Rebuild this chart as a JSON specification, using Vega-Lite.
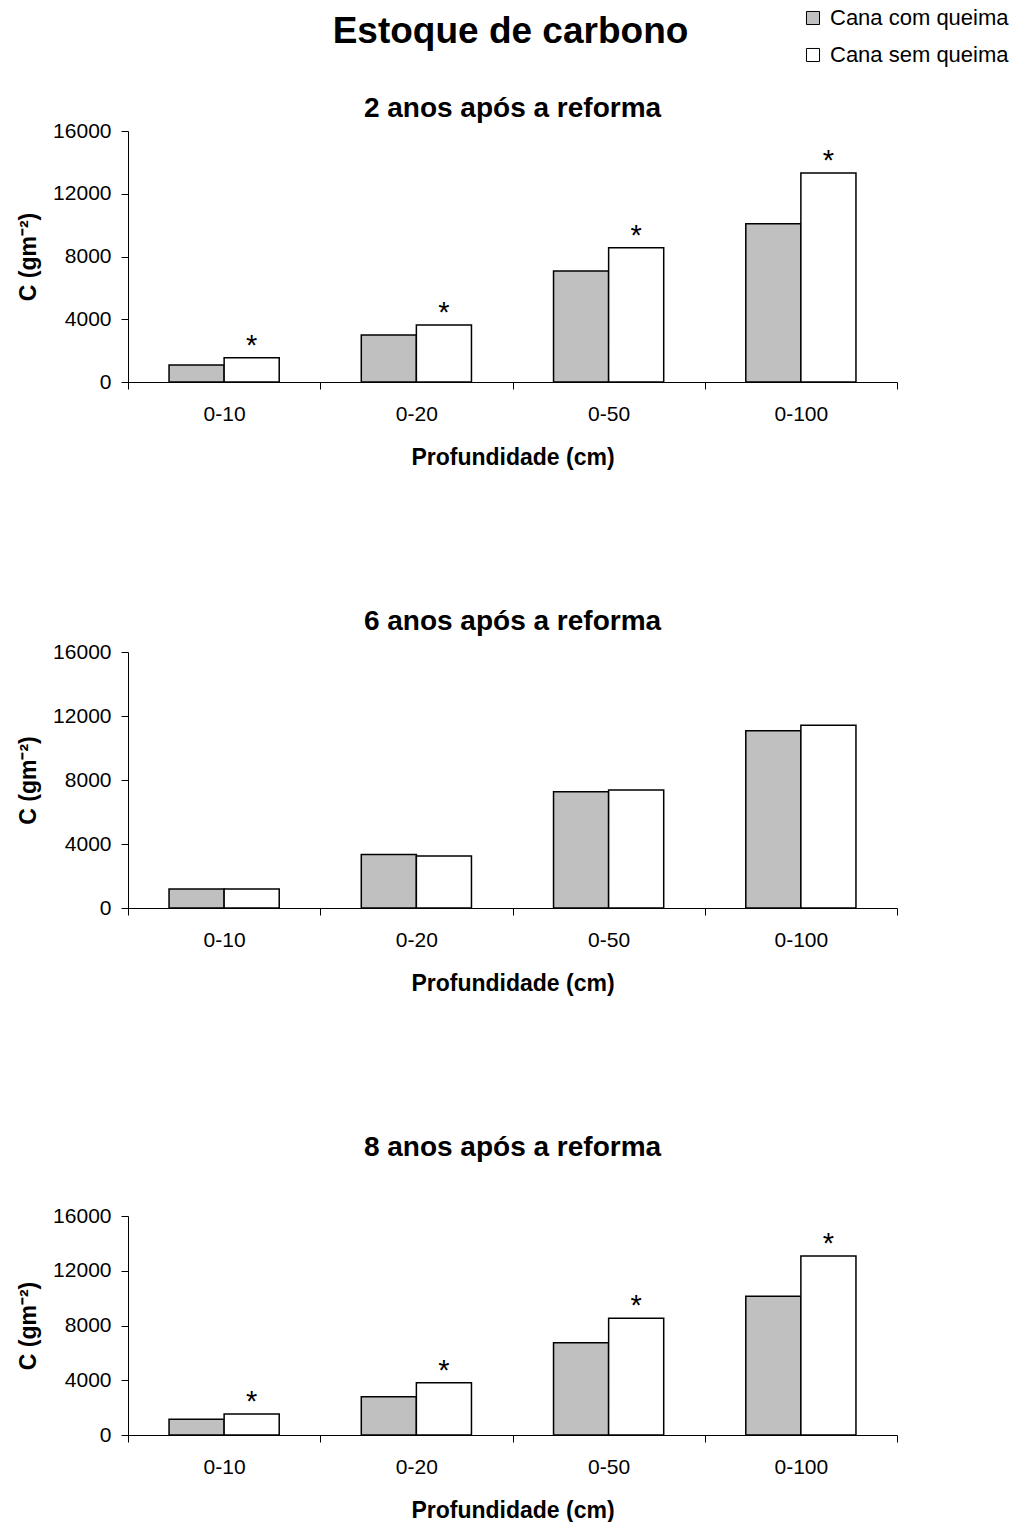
{
  "$schema": "https://vega.github.io/schema/vega-lite/v6.json",
  "padding": {"left": 17, "top": 7, "right": 5, "bottom": 5},
  "background": "white",
  "title": {"text": "Estoque de carbono", "fontSize": 37, "fontWeight": "bold", "anchor": "middle", "frame": "group", "offset": 0, "dy": 44, "dx": -2, "color": "black"},
  "config": {
    "font": "Liberation Sans",
    "view": {"stroke": null},
    "axis": {"grid": false, "domainColor": "black", "tickColor": "black", "labelColor": "black", "titleColor": "black", "labelFontSize": 21, "titleFontSize": 23, "titleFontWeight": "bold", "tickSize": 7, "domainWidth": 1, "tickWidth": 1},
    "title": {"fontSize": 28, "fontWeight": "bold", "color": "black", "anchor": "middle", "frame": "group"},
    "legend": {"orient": "none", "legendX": 674, "legendY": -124, "labelFontSize": 22, "labelLimit": 400, "labelColor": "black", "symbolType": "square", "symbolSize": 170, "symbolStrokeColor": "black", "symbolStrokeWidth": 1, "rowPadding": 15, "labelOffset": 6, "title": null}
  },
  "data": {"values": [
    {"panel": "2", "depth": "0-10", "trat": "Cana com queima", "C": 1080, "sig": ""},
    {"panel": "2", "depth": "0-10", "trat": "Cana sem queima", "C": 1550, "sig": "*"},
    {"panel": "2", "depth": "0-20", "trat": "Cana com queima", "C": 3000, "sig": ""},
    {"panel": "2", "depth": "0-20", "trat": "Cana sem queima", "C": 3630, "sig": "*"},
    {"panel": "2", "depth": "0-50", "trat": "Cana com queima", "C": 7080, "sig": ""},
    {"panel": "2", "depth": "0-50", "trat": "Cana sem queima", "C": 8550, "sig": "*"},
    {"panel": "2", "depth": "0-100", "trat": "Cana com queima", "C": 10080, "sig": ""},
    {"panel": "2", "depth": "0-100", "trat": "Cana sem queima", "C": 13320, "sig": "*"},
    {"panel": "6", "depth": "0-10", "trat": "Cana com queima", "C": 1190, "sig": ""},
    {"panel": "6", "depth": "0-10", "trat": "Cana sem queima", "C": 1180, "sig": ""},
    {"panel": "6", "depth": "0-20", "trat": "Cana com queima", "C": 3350, "sig": ""},
    {"panel": "6", "depth": "0-20", "trat": "Cana sem queima", "C": 3250, "sig": ""},
    {"panel": "6", "depth": "0-50", "trat": "Cana com queima", "C": 7270, "sig": ""},
    {"panel": "6", "depth": "0-50", "trat": "Cana sem queima", "C": 7380, "sig": ""},
    {"panel": "6", "depth": "0-100", "trat": "Cana com queima", "C": 11080, "sig": ""},
    {"panel": "6", "depth": "0-100", "trat": "Cana sem queima", "C": 11420, "sig": ""},
    {"panel": "8", "depth": "0-10", "trat": "Cana com queima", "C": 1150, "sig": ""},
    {"panel": "8", "depth": "0-10", "trat": "Cana sem queima", "C": 1530, "sig": "*"},
    {"panel": "8", "depth": "0-20", "trat": "Cana com queima", "C": 2800, "sig": ""},
    {"panel": "8", "depth": "0-20", "trat": "Cana sem queima", "C": 3820, "sig": "*"},
    {"panel": "8", "depth": "0-50", "trat": "Cana com queima", "C": 6740, "sig": ""},
    {"panel": "8", "depth": "0-50", "trat": "Cana sem queima", "C": 8530, "sig": "*"},
    {"panel": "8", "depth": "0-100", "trat": "Cana com queima", "C": 10140, "sig": ""},
    {"panel": "8", "depth": "0-100", "trat": "Cana sem queima", "C": 13080, "sig": "*"}
  ]},
  "spacing": 139,
  "vconcat": [
    {
      "title": {"text": "2 anos após a reforma", "offset": -3},
      "width": 769, "height": 251,
      "transform": [{"filter": "datum.panel == '2'"}],
      "encoding": {
        "x": {"field": "depth", "type": "nominal", "sort": ["0-10", "0-20", "0-50", "0-100"], "scale": {"paddingInner": 0, "paddingOuter": 0}, "axis": {"title": "Profundidade (cm)", "labelAngle": 0, "tickBand": "extent", "labelPadding": 14, "titlePadding": 22}},
        "xOffset": {"field": "trat", "type": "nominal", "scale": {"paddingInner": 0, "paddingOuter": 0.745}},
        "y": {"field": "C", "type": "quantitative", "scale": {"domain": [0, 16000]}, "axis": {"title": "C (gm⁻²)", "format": "d", "values": [0, 4000, 8000, 12000, 16000], "labelPadding": 10, "titlePadding": 12}}
      },
      "layer": [
        {"mark": {"type": "bar", "stroke": "black", "strokeWidth": 1.5}, "encoding": {"color": {"field": "trat", "type": "nominal", "scale": {"domain": ["Cana com queima", "Cana sem queima"], "range": ["#c0c0c0", "#ffffff"]}}}},
        {"mark": {"type": "text", "fontSize": 29, "baseline": "alphabetic", "dy": -3, "color": "black"}, "encoding": {"text": {"field": "sig"}}}
      ]
    },
    {
      "title": {"text": "6 anos após a reforma", "offset": 5},
      "width": 769, "height": 256,
      "transform": [{"filter": "datum.panel == '6'"}],
      "encoding": {
        "x": {"field": "depth", "type": "nominal", "sort": ["0-10", "0-20", "0-50", "0-100"], "scale": {"paddingInner": 0, "paddingOuter": 0}, "axis": {"title": "Profundidade (cm)", "labelAngle": 0, "tickBand": "extent", "labelPadding": 14, "titlePadding": 22}},
        "xOffset": {"field": "trat", "type": "nominal", "scale": {"paddingInner": 0, "paddingOuter": 0.745}},
        "y": {"field": "C", "type": "quantitative", "scale": {"domain": [0, 16000]}, "axis": {"title": "C (gm⁻²)", "format": "d", "values": [0, 4000, 8000, 12000, 16000], "labelPadding": 10, "titlePadding": 12}}
      },
      "layer": [
        {"mark": {"type": "bar", "stroke": "black", "strokeWidth": 1.5}, "encoding": {"color": {"field": "trat", "type": "nominal", "scale": {"domain": ["Cana com queima", "Cana sem queima"], "range": ["#c0c0c0", "#ffffff"]}}}},
        {"mark": {"type": "text", "fontSize": 29, "baseline": "alphabetic", "dy": -3, "color": "black"}, "encoding": {"text": {"field": "sig"}}}
      ]
    },
    {
      "title": {"text": "8 anos após a reforma", "offset": 43},
      "width": 769, "height": 219,
      "transform": [{"filter": "datum.panel == '8'"}],
      "encoding": {
        "x": {"field": "depth", "type": "nominal", "sort": ["0-10", "0-20", "0-50", "0-100"], "scale": {"paddingInner": 0, "paddingOuter": 0}, "axis": {"title": "Profundidade (cm)", "labelAngle": 0, "tickBand": "extent", "labelPadding": 14, "titlePadding": 22}},
        "xOffset": {"field": "trat", "type": "nominal", "scale": {"paddingInner": 0, "paddingOuter": 0.745}},
        "y": {"field": "C", "type": "quantitative", "scale": {"domain": [0, 16000]}, "axis": {"title": "C (gm⁻²)", "format": "d", "values": [0, 4000, 8000, 12000, 16000], "labelPadding": 10, "titlePadding": 12}}
      },
      "layer": [
        {"mark": {"type": "bar", "stroke": "black", "strokeWidth": 1.5}, "encoding": {"color": {"field": "trat", "type": "nominal", "scale": {"domain": ["Cana com queima", "Cana sem queima"], "range": ["#c0c0c0", "#ffffff"]}}}},
        {"mark": {"type": "text", "fontSize": 29, "baseline": "alphabetic", "dy": -3, "color": "black"}, "encoding": {"text": {"field": "sig"}}}
      ]
    }
  ]
}
